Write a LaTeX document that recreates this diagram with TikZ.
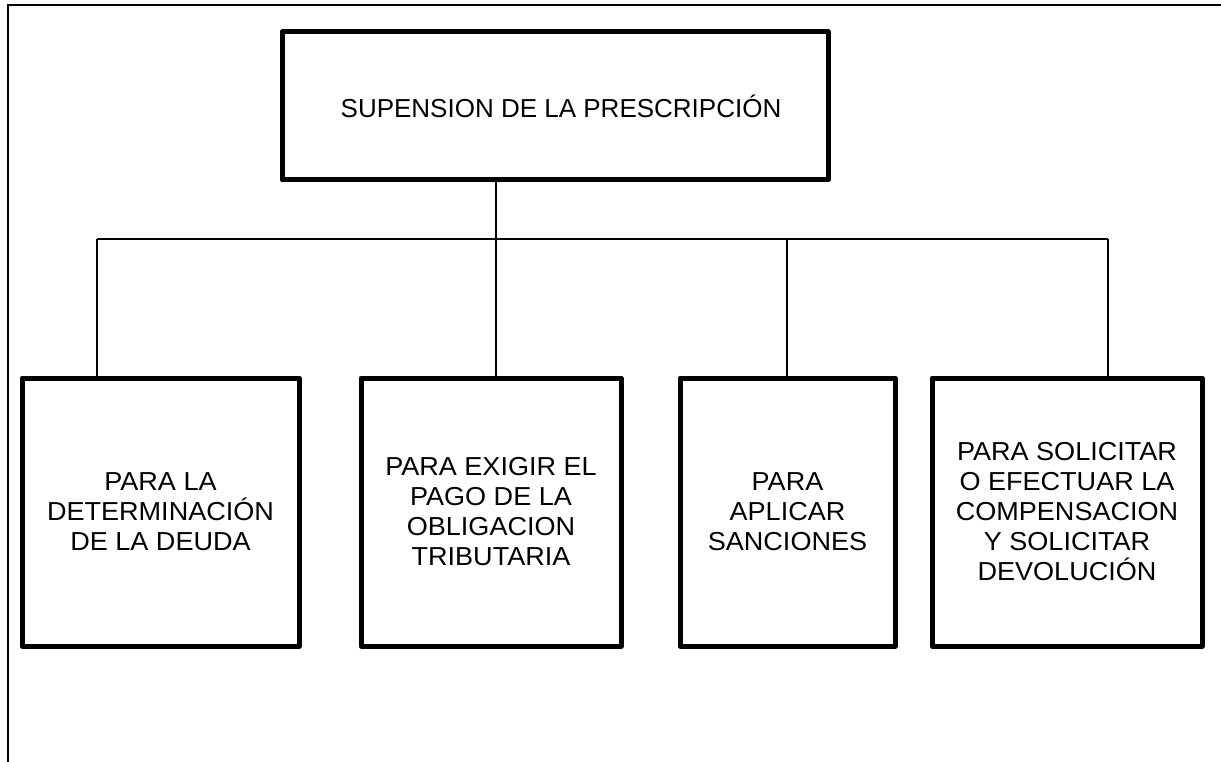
\documentclass[tikz,border=0pt]{standalone}
\usepackage{fontspec}
\setmainfont{Liberation Sans}
\newfontfamily\widesans{Liberation Sans}[FakeStretch=1.04]
\begin{document}
\begin{tikzpicture}[x=1pt,y=-1pt,
  box/.style={draw=black, line width=5pt, line join=round, rectangle, inner sep=0pt,
    align=center, font=\widesans\fontsize{26}{30}\selectfont, text=black},
  topbox/.style={box, font=\fontsize{26}{30}\selectfont},
  conn/.style={draw=black, line width=1.4pt},
  frameline/.style={draw=black, line width=2pt}]
\useasboundingbox (0,0) rectangle (1221,762);
% frame
\coordinate (fA) at (7.5,762);
\coordinate (fB) at (7.5,5);
\coordinate (fC) at (1221,5);
\draw[frameline] (fA) -- (fB) -- (fC);
% top box
\node[topbox, minimum width=546pt, minimum height=148pt] (top) at (555,106)
  {\hspace*{12pt}SUPENSION DE LA PRESCRIPCIÓN};
% bottom boxes
\node[box, minimum width=277pt, minimum height=268pt] (b1) at (160.5,512)
  {PARA LA\\DETERMINACIÓN\\DE LA DEUDA};
\node[box, minimum width=260pt, minimum height=268pt] (b2) at (491,512)
  {PARA EXIGIR EL\\PAGO DE LA\\OBLIGACION\\TRIBUTARIA};
\node[box, minimum width=215pt, minimum height=268pt] (b3) at (787.5,512)
  {PARA\\APLICAR\\SANCIONES};
\node[box, minimum width=270pt, minimum height=268pt] (b4) at (1067,512)
  {PARA SOLICITAR\\O EFECTUAR LA\\COMPENSACION\\Y SOLICITAR\\DEVOLUCIÓN};
% junctions
\coordinate (j1) at (97,239);
\coordinate (j2) at (496,239);
\coordinate (j3) at (787,239);
\coordinate (j4) at (1108,239);
\draw[conn] (top.south -| j2) -- (j2);
\draw[conn] (j1) -- (j4);
\draw[conn] (j1) -- (j1 |- b1.north);
\draw[conn] (j2) -- (j2 |- b2.north);
\draw[conn] (j3) -- (j3 |- b3.north);
\draw[conn] (j4) -- (j4 |- b4.north);
\end{tikzpicture}
\end{document}
